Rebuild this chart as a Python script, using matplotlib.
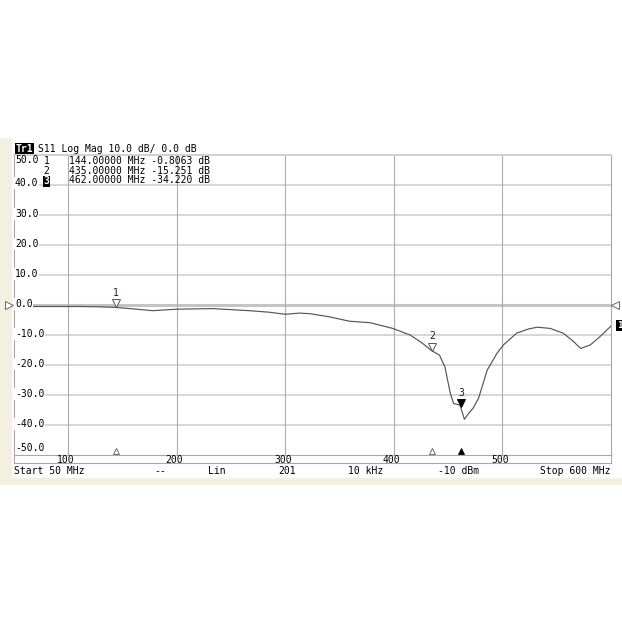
import matplotlib
matplotlib.use("Agg")
import matplotlib.pyplot as plt
from matplotlib.patches import Rectangle
from matplotlib.lines import Line2D
import matplotlib.transforms as mtransforms

# ---------------- data ----------------
freq_mhz = [50, 80, 110, 129, 144, 160, 178, 200, 233, 267, 285, 300, 313, 323,
            340, 359, 378, 399, 415, 425, 435, 442, 447, 452, 455, 461, 465,
            469, 473, 478, 486, 495, 501, 513, 524, 532, 544, 556, 565, 572,
            581, 590, 600]
s11_db = [-0.5, -0.5, -0.5, -0.6, -0.81, -1.3, -1.9, -1.4, -1.2, -1.9, -2.4, -3.1,
          -2.7, -2.9, -3.9, -5.4, -5.9, -7.8, -10.0, -12.4, -15.25, -16.7, -20.6,
          -29.4, -32.8, -33.4, -38.1, -36.1, -34.4, -31.1, -21.7, -16.1, -13.3,
          -9.4, -8.0, -7.4, -7.8, -9.4, -12.0, -14.5, -13.3, -10.5, -7.0]

marker_ids = ["1", "2", "3"]
marker_freq = [144.0, 435.0, 462.0]
marker_db = [-0.8063, -15.251, -34.220]
marker_active = [False, False, True]

y_ticks = [50, 40, 30, 20, 10, 0, -10, -20, -30, -40, -50]
y_labels = ["50.0", "40.0", "30.0", "20.0", "10.0", "0.0", "-10.0", "-20.0",
            "-30.0", "-40.0", "-50.0"]
x_ticks = [100, 200, 300, 400, 500]
x_labels = ["100", "200", "300", "400", "500"]

header = "S11 Log Mag 10.0 dB/ 0.0 dB"
status_items = ["Start 50 MHz", "--", "Lin", "201", "10 kHz", "-10 dBm", "Stop 600 MHz"]

# ---------------- figure ----------------
W = H = 622
fig = plt.figure(figsize=(6.22, 6.22), dpi=100)
fig.patch.set_facecolor("white")

def px(x, y):
    return x / W, 1 - y / H

MONO = "DejaVu Sans Mono"
FS = 7.0
beige = "#f3f0e2"

# beige window background strips
fig.patches.append(Rectangle(px(0, 485), 11.5 / W, (485 - 138) / H,
                             transform=fig.transFigure, facecolor=beige,
                             edgecolor="none", zorder=-2))
fig.patches.append(Rectangle(px(0, 485), 1.0, 7.5 / H,
                             transform=fig.transFigure, facecolor=beige,
                             edgecolor="none", zorder=-2))

L, R, T, B = 13.8, 611.0, 155.0, 455.0
ax = fig.add_axes([L / W, 1 - B / H, (R - L) / W, (B - T) / H])
ax.set_xlim(50, 600)
ax.set_ylim(-50, 50)
ax.set_xticks([])
ax.set_yticks([])
for s in ax.spines.values():
    s.set_color("#a8a8a8")
    s.set_linewidth(0.8)
ax.spines["top"].set_color("#d0d0d0")
ax.spines["top"].set_linewidth(1.4)

# grid
for yv in y_ticks:
    if yv == 0:
        ax.axhline(yv, color="#c4c4c4", lw=2.2, zorder=1)
    elif abs(yv) != 50:
        ax.axhline(yv, color="#d6d6d6", lw=1.4, zorder=1)
for xv in x_ticks:
    ax.axvline(xv, color="#ababab", lw=0.8, zorder=1)

# trace
ax.plot(freq_mhz, s11_db, color="#555555", lw=0.85, zorder=3)

# y labels (inside plot, white background)
ytr = ax.get_yaxis_transform()
for yv, lab in zip(y_ticks, y_labels):
    if yv == 50:
        ax.text(0.002, yv - 1.7, lab, transform=ytr, ha="left", va="center",
                family=MONO, fontsize=FS, zorder=5)
    elif yv == 40:
        ax.text(0.002, yv + 0.7, lab, transform=ytr, ha="left", va="center",
                family=MONO, fontsize=FS, zorder=5,
                bbox=dict(facecolor="white", edgecolor="none", pad=0.6))
    elif yv == -50:
        ax.text(0.002, yv + 2.3, lab, transform=ytr, ha="left", va="center",
                family=MONO, fontsize=FS, zorder=5)
    else:
        ax.text(0.002, yv + 0.35, lab, transform=ytr, ha="left", va="center",
                family=MONO, fontsize=FS, zorder=5,
                bbox=dict(facecolor="white", edgecolor="none", pad=0.6))

# reference arrows
ax.plot([-0.0085], [0], transform=ytr, marker=">", ms=5.5, mfc="white",
        mec="#666666", mew=0.7, clip_on=False, zorder=6)
ax.plot([1.0072], [0], transform=ytr, marker="<", ms=5.5, mfc="white",
        mec="#666666", mew=0.7, clip_on=False, zorder=6)
fig.text(*px(619.5, 325.5), "1", color="white", family=MONO, fontsize=6.5,
         fontweight="bold", ha="center", va="center",
         bbox=dict(facecolor="black", edgecolor="none", pad=0.4))

# markers on trace
ms = 6.0
tri_off = mtransforms.offset_copy(ax.transData, fig=fig, x=0, y=ms / 2, units="points")
lab_off = mtransforms.offset_copy(ax.transData, fig=fig, x=0, y=10.5, units="points")
bot_off = mtransforms.offset_copy(ax.transData, fig=fig, x=0, y=2.9, units="points")
for mid, f, v, act in zip(marker_ids, marker_freq, marker_db, marker_active):
    fc = "black" if act else "white"
    ec = "black" if act else "#555555"
    ax.plot([f], [v], transform=tri_off, marker="v", ms=ms, mfc=fc, mec=ec,
            mew=0.7, zorder=6)
    ax.text(f, v, mid, transform=lab_off, ha="center", va="center",
            family=MONO, fontsize=FS, color="#3a1010", zorder=6)
    ax.plot([f], [-50], transform=bot_off, marker="^", ms=5.0, mfc=fc, mec=ec,
            mew=0.6, zorder=6, clip_on=False)

# x labels row
xtr = ax.get_xaxis_transform()
for xv, lab in zip(x_ticks, x_labels):
    ax.text(xv - 2, -0.0155, lab, transform=xtr, ha="center", va="center",
            family=MONO, fontsize=FS, clip_on=False)
for seg in [((L, 463.3), (R, 463.3)), ((L, 455), (L, 463.3)), ((R, 455), (R, 463.3))]:
    (x0, y0), (x1, y1) = seg
    fig.lines.append(Line2D([x0 / W, x1 / W], [1 - y0 / H, 1 - y1 / H],
                            transform=fig.transFigure, color="#a8a8a8", lw=0.8))

# header
fig.text(*px(24.5, 148.5), "Tr1", color="white", family=MONO, fontsize=FS,
         fontweight="bold", ha="center", va="center",
         bbox=dict(facecolor="black", edgecolor="none", pad=0.5))
fig.text(*px(38.5, 148.5), header, family=MONO, fontsize=FS, ha="left", va="center")

# marker table
row_y = [160.5, 170.5, 180.5]
for mid, f, v, ry, act in zip(marker_ids, marker_freq, marker_db, row_y, marker_active):
    if act:
        fig.text(*px(46.5, ry + 1), mid, color="white", family=MONO, fontsize=FS,
                 fontweight="bold", ha="center", va="center", zorder=7,
                 bbox=dict(facecolor="black", edgecolor="none", pad=0.3))
    else:
        fig.text(*px(46.5, ry), mid, family=MONO, fontsize=FS, ha="center",
                 va="center", zorder=7)
    vs = f"{v:.4f}" if abs(v) < 10 else f"{v:.3f}"
    fig.text(*px(69, ry), f"{f:.5f} MHz {vs} dB", family=MONO, fontsize=FS,
             ha="left", va="center", zorder=7)

# status bar
st_x = [14, 160, 217, 287, 366, 459, 610]
st_ha = ["left", "center", "center", "center", "center", "center", "right"]
for s, xx, ha in zip(status_items, st_x, st_ha):
    fig.text(*px(xx, 471.5), s, family=MONO, fontsize=FS, ha=ha, va="center")

fig.savefig("out.png", dpi=100, facecolor="white")
